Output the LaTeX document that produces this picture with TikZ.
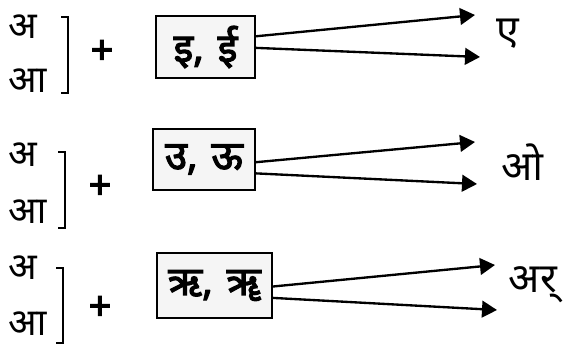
\documentclass[tikz,border=0pt]{standalone}
\usepackage{fontspec}
\setmainfont[Script=Devanagari]{Noto Sans}
\newfontfamily\gaadha[Script=Devanagari,FakeBold=3]{Noto Sans}
\usetikzlibrary{arrows.meta}

\tikzset{
  swar/.style={font=\fontsize{32}{36}\selectfont, inner sep=0pt},
  phal/.style={font=\fontsize{35}{40}\selectfont, inner sep=0pt},
  jod/.style={font=\gaadha\fontsize{34}{38}\selectfont, inner sep=0pt},
  matra/.style={draw, line width=1.4pt, fill=black!4, inner sep=0pt,
    font=\gaadha\fontsize{34}{38}\selectfont},
  sandhi/.style={line width=2pt, -{Triangle[length=0.45cm,width=0.5cm]}},
  kosht/.style={line width=1.4pt}
}

\begin{document}
\begin{tikzpicture}[x=0.03cm,y=-0.03cm]
\useasboundingbox (0,0) rectangle (565,349);

% pahli pankti
\node[swar] (a1) at (23,27) {अ};
\node[swar] (aa1) at (28,81) {आ};
\draw[kosht] (61,17) -- (68,17) -- (68,93) -- (61,93);
\node[jod] (p1) at (102,52) {+};
\node[matra, minimum width=2.97cm, minimum height=1.86cm] (b1) at (205.5,47) {इ,\hspace{0.35em}ई};
\coordinate (t1a) at (475,15);
\coordinate (t1b) at (480,57);
\draw[sandhi] (b1.12) -- (t1a);
\draw[sandhi] (b1.-1) -- (t1b);
\node[phal] (o1) at (508,34) {ए};

% doosri pankti
\node[swar] (a2) at (23,155) {अ};
\node[swar] (aa2) at (28,212) {आ};
\draw[kosht] (58,152) -- (65,152) -- (65,228) -- (58,228);
\node[jod] (p2) at (100,187) {+};
\node[matra, minimum width=3.06cm, minimum height=1.83cm] (b2) at (204,159.5) {उ,\hspace{0.35em}ऊ};
\coordinate (t2a) at (475,142);
\coordinate (t2b) at (477,184);
\draw[sandhi] (b2.-3) -- (t2a);
\draw[sandhi] (b2.-15) -- (t2b);
\node[phal] (o2) at (522,162) {ओ};

% teesri pankti
\node[swar] (a3) at (23,268) {अ};
\node[swar] (aa3) at (28,324) {आ};
\draw[kosht] (56,268) -- (63,268) -- (63,343) -- (56,343);
\node[jod] (p3) at (100,308) {+};
\node[matra, minimum width=3.45cm, minimum height=1.95cm] (b3) at (214.5,285.5) {ऋ,\hspace{0.35em}ॠ};
\coordinate (t3a) at (495,265);
\coordinate (t3b) at (497,310);
\draw[sandhi] (b3.-1) -- (t3a);
\draw[sandhi] (b3.-12) -- (t3b);
\node[phal] (o3) at (533,285) {अर्};

\end{tikzpicture}
\end{document}
